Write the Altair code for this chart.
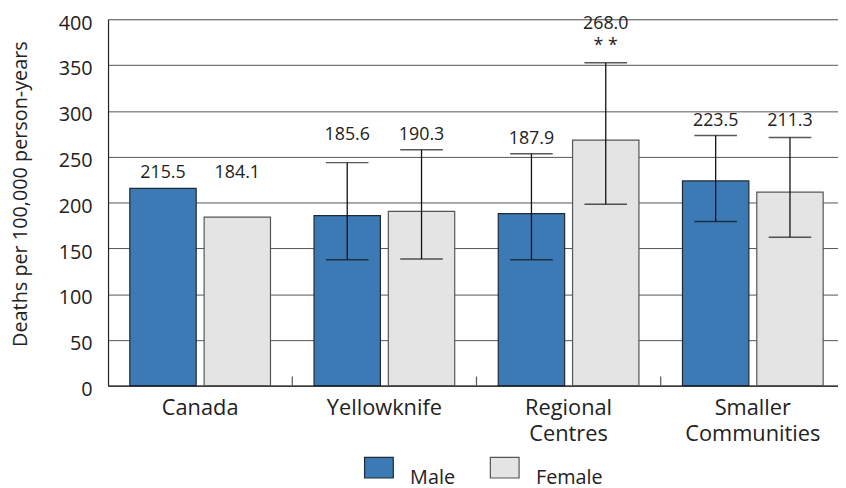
import altair as alt
import pandas as pd

categories = ["Canada", "Yellowknife", "Regional Centres", "Smaller Communities"]
male = [215.5, 185.6, 187.9, 223.5]
female = [184.1, 190.3, 268.0, 211.3]
male_low = [None, 137.6, 137.5, 179.2]
male_high = [None, 243.5, 253.2, 273.0]
female_low = [None, 138.3, 198.0, 162.0]
female_high = [None, 257.5, 352.4, 270.8]
male_note = ["", "", "", ""]
female_note = ["", "", "* *", ""]
sexes = ["Male", "Female"]
colors = ["#3b7ab5", "#e4e4e4"]
strokes = ["#1f2a36", "#555555"]

rows = []
for i, c in enumerate(categories):
    rows.append(dict(cat=c, sex="Male", value=male[i], low=male_low[i], high=male_high[i], note=male_note[i]))
    rows.append(dict(cat=c, sex="Female", value=female[i], low=female_low[i], high=female_high[i], note=female_note[i]))
df = pd.DataFrame(rows)
df["top"] = df[["value", "high"]].max(axis=1)
# label anchor: align labels within a group when the tops are close
anchor = []
for c in categories:
    g = df[df.cat == c]
    gm = g["top"].max()
    for _, r in g.iterrows():
        anchor.append(gm if gm - r["top"] < 50 else r["top"])
df["anchor"] = anchor
df["label"] = df["value"].map(lambda v: f"{v:.1f}")

sep = pd.DataFrame({"cat": categories[1:]})

FONT = "Open Sans"
xscale = alt.Scale(domain=categories, range=[0, 744], paddingInner=0, paddingOuter=0)
xoff = alt.XOffset("sex:N", sort=sexes,
                   scale=alt.Scale(domain=sexes, paddingInner=0.1067, paddingOuter=0.293))
yscale = alt.Scale(domain=[0, 400])
X = alt.X("cat:N", sort=categories, scale=xscale)

base = alt.Chart(df)

bars = base.mark_bar(strokeWidth=1.2).encode(
    x=alt.X("cat:N", sort=categories, scale=xscale,
            axis=alt.Axis(title=None, labelExpr="split(datum.label, ' ')", labelAngle=0,
                          labelFontSize=22, labelColor="#222", labelFont=FONT,
                          labelLineHeight=26, labelPadding=12, ticks=False,
                          domainColor="#222", domainWidth=1.2)),
    xOffset=xoff,
    y=alt.Y("value:Q", scale=yscale,
            axis=alt.Axis(title="Deaths per 100,000 person-years", values=list(range(0, 401, 50)),
                          ticks=False, labelFontSize=20, labelColor="#222", labelFont=FONT,
                          labelPadding=16, labelOffset=4, gridColor="#555", gridWidth=1,
                          domainColor="#222", domainWidth=1.2,
                          titleFont=FONT, titleFontSize=20, titleFontWeight="normal",
                          titleColor="#222", titleX=-88, titleY=176, titleAngle=270,
                          titleBaseline="middle", titleAlign="center")),
    color=alt.Color("sex:N", sort=sexes, scale=alt.Scale(domain=sexes, range=colors),
                    legend=alt.Legend(title=None, orient="none", direction="horizontal",
                                      legendX=258, legendY=437,
                                      symbolType="M-1,-0.72L1,-0.72L1,0.72L-1,0.72Z",
                                      symbolSize=841, symbolStrokeWidth=1.2,
                                      symbolStrokeColor="#333", symbolOpacity=1,
                                      labelFontSize=20, labelFont=FONT, labelColor="#222",
                                      labelOffset=16, columnPadding=32, labelBaseline="top")),
    stroke=alt.Stroke("sex:N", sort=sexes, scale=alt.Scale(domain=sexes, range=strokes), legend=None),
)

eb = base.transform_filter("isValid(datum.low)")
err = eb.mark_rule(color="#111", strokeWidth=1.3).encode(
    x=X, xOffset=xoff, y=alt.Y("low:Q", scale=yscale), y2="high:Q",
)
cap_lo = eb.mark_tick(color="#111", thickness=1.5, size=43).encode(
    x=X, xOffset=xoff, y=alt.Y("low:Q", scale=yscale),
)
cap_hi = eb.mark_tick(color="#111", thickness=1.5, size=43).encode(
    x=X, xOffset=xoff, y=alt.Y("high:Q", scale=yscale),
)
labels_plain = base.transform_filter("datum.note == ''").mark_text(
    fontSize=18, font=FONT, color="#222", baseline="bottom", dy=-6).encode(
    x=X, xOffset=xoff, y=alt.Y("anchor:Q", scale=yscale), text="label:N",
)
labels_noted = base.transform_filter("datum.note != ''").mark_text(
    fontSize=18, font=FONT, color="#222", baseline="bottom", dy=-30).encode(
    x=X, xOffset=xoff, y=alt.Y("anchor:Q", scale=yscale), text="label:N",
)
notes = base.transform_filter("datum.note != ''").mark_text(
    fontSize=18, font=FONT, color="#222", baseline="bottom", dy=-8).encode(
    x=X, xOffset=xoff, y=alt.Y("anchor:Q", scale=yscale), text="note:N",
)
seps = alt.Chart(sep).mark_rule(color="#555", strokeWidth=1.2).encode(
    x=alt.X("cat:N", sort=categories, scale=xscale, bandPosition=0),
    y=alt.YDatum(0, scale=yscale),
    y2=alt.Y2Datum(10),
)

chart = alt.layer(bars, err, cap_lo, cap_hi, labels_plain, labels_noted, notes, seps).properties(
    width=737, height=370,
    autosize=alt.AutoSizeParams(type="none"),
    padding={"left": 101, "top": 9, "right": 0, "bottom": 110},
).configure_view(stroke=None).configure(font=FONT)

chart.save("out.html", embed_options={"renderer": "svg", "actions": False})
